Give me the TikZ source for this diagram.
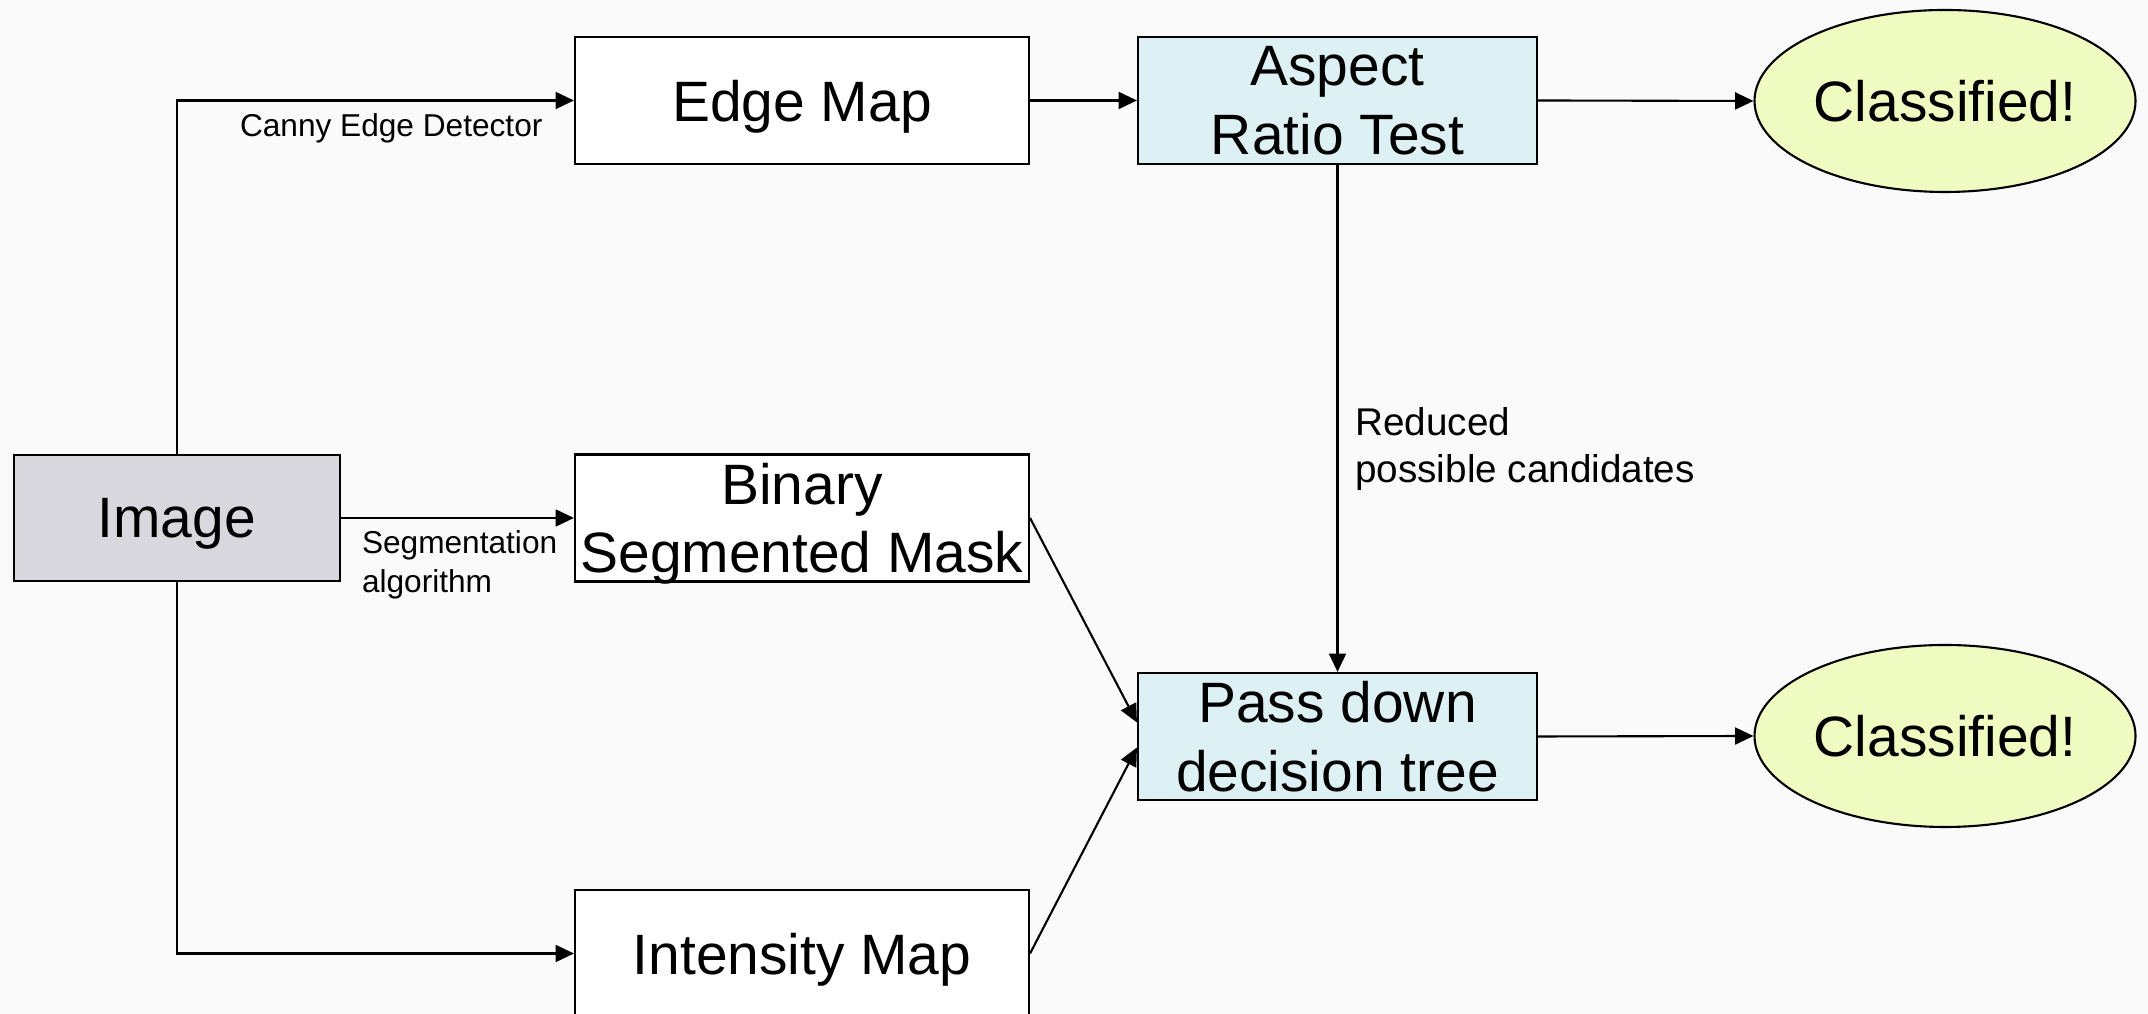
\documentclass[tikz,border=0pt]{standalone}
\usepackage{fontspec}
\setmainfont{Liberation Sans}
\usepackage{tikz}
\usetikzlibrary{arrows.meta,shapes.geometric}
\definecolor{bgcol}{HTML}{FAFAFA}
\definecolor{imagecol}{HTML}{D9D8DE}
\definecolor{testcol}{HTML}{DDF0F3}
\definecolor{classcol}{HTML}{F0FBC2}
\tikzset{
    boxnode/.style = {
        align=center,
        inner sep=0pt,
        rectangle,
        draw=black,
        line width=0.6pt,
        font=\fontsize{16.2}{19.5}\selectfont,
        text depth=0pt,
        minimum height=1.27cm
    },
    mapnode/.style = {
        boxnode,
        fill=white,
        minimum width=4.54cm
    },
    testnode/.style = {
        boxnode,
        fill=testcol,
        minimum width=3.99cm
    },
    imagenode/.style = {
        boxnode,
        fill=imagecol,
        minimum width=3.26cm,
        minimum height=1.26cm
    },
    classnode/.style = {
        ellipse,
        draw=black,
        line width=0.6pt,
        fill=classcol,
        inner sep=0pt,
        minimum width=3.81cm,
        minimum height=1.82cm,
        font=\fontsize{16.2}{19.5}\selectfont
    },
    flow/.style = {
        -{Triangle[length=5.2pt,width=4.8pt]},
        line width=0.6pt
    },
    smalllabel/.style = {
        align=left,
        font=\fontsize{9}{11}\selectfont
    }
}
\begin{document}
\begin{tikzpicture}
            \fill [bgcol] (0,0) rectangle (21.48,10.14);
            \useasboundingbox (0,0) rectangle (21.48,10.14);
            \node [imagenode] (image) at (1.767,4.96) {Image};
            \node [mapnode] (edgemap) at (8.02,9.135) {Edge Map};
            \node [mapnode] (mask) at (8.02,4.96) {Binary\\Segmented Mask};
            \node [mapnode] (intensity) at (8.02,0.605) {Intensity Map};
            \node [testnode] (aspect) at (13.375,9.135) {Aspect\\Ratio Test};
            \node [testnode] (passdown) at (13.375,2.775) {Pass down\\decision tree};
            \node [classnode] (classtop) at (19.45,9.13) {Classified!};
            \node [classnode] (classbot) at (19.45,2.78) {Classified!};

            \draw [flow] (image.north) |- (edgemap.west)
                node [smalllabel, below, pos=0.77] {Canny Edge Detector};
            \draw [flow] (image.east) -- (mask.west)
                node [smalllabel, below right, pos=0, xshift=0.85mm] {Segmentation\\algorithm};
            \draw [flow] (image.south) |- (intensity.west);
            \draw [flow] (edgemap.east) -- (aspect.west);
            \draw [flow] (aspect.east) -- (classtop.west);
            \draw [flow] (aspect.south) -- (passdown.north)
                node [smalllabel, right, pos=0.56, xshift=0.5mm, font=\fontsize{11}{13.2}\selectfont] {Reduced\\possible candidates};
            \draw [flow] (mask.east) -- ([yshift=1.4mm]passdown.west);
            \draw [flow] (intensity.east) -- ([yshift=-1.1mm]passdown.west);
            \draw [flow] (passdown.east) -- (classbot.west);
        \end{tikzpicture}
\end{document}
